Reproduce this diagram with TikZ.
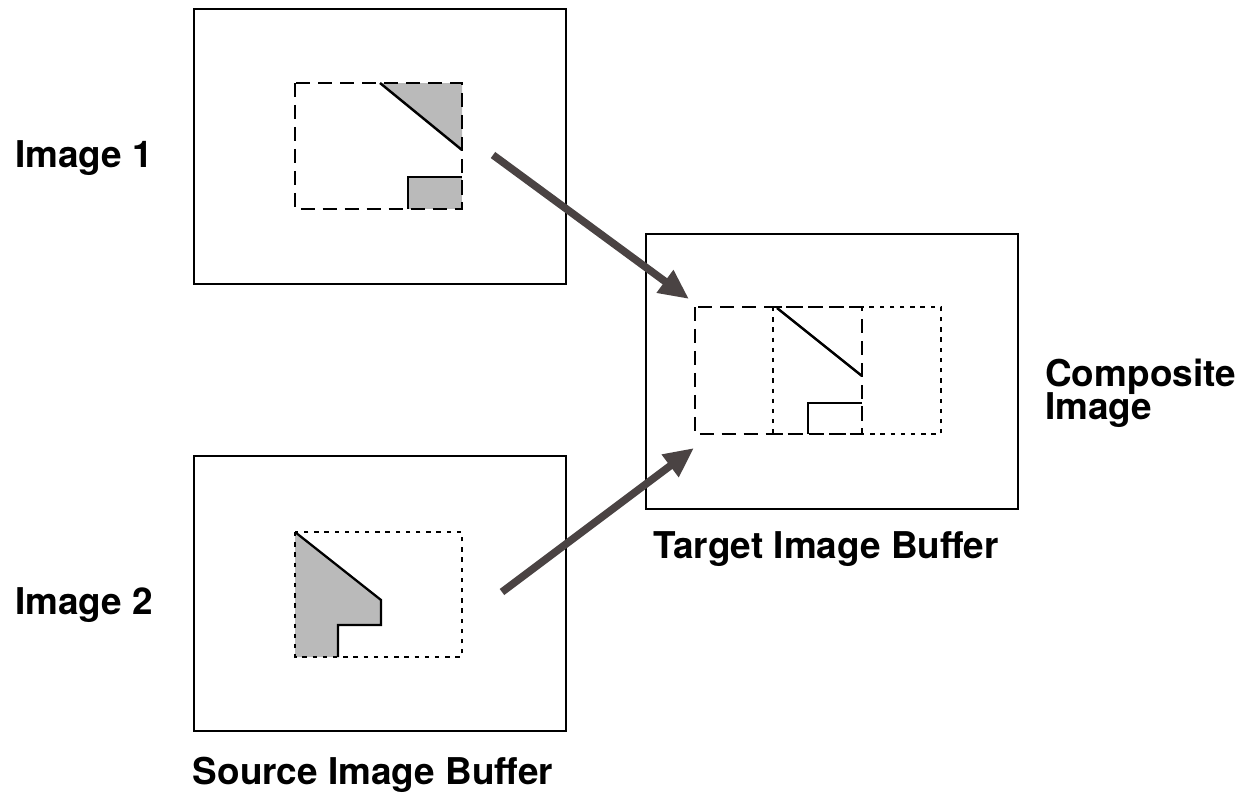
\documentclass[tikz,border=0pt]{standalone}
\usepackage{fontspec}
\setmainfont{TeX Gyre Heros}
\usetikzlibrary{arrows.meta,positioning}

\begin{document}
\begin{tikzpicture}[x=0.02cm, y=-0.02cm, line join=miter,
  buffer/.style={rectangle, draw, line width=1.15pt, anchor=north west, inner sep=0pt, minimum width=7.44cm, minimum height=5.5cm},
  win dashed/.style={line width=1.6pt, dash pattern=on 8pt off 4.5pt},
  win dotted/.style={line width=1.6pt, dash pattern=on 2.5pt off 3.3pt},
  shaded/.style={fill=black!27},
  caption/.style={font=\bfseries\fontsize{21}{24}\selectfont, align=left, inner sep=0pt},
  fat arrow/.style={draw=arrowgray, line width=4.3pt, -{Triangle[length=17pt,width=15pt]}}]
  \definecolor{arrowgray}{HTML}{4A4343}
  \useasboundingbox (0,0) rectangle (1249,795);

  % buffers
  \node[buffer] (img1) at (193,8) {};
  \node[buffer] (img2) at (193,455) {};
  \node[buffer] (target) at (645,233) {};

  % image 1 window
  \fill[shaded] (380,83) -- (462,83) -- (462,150) -- cycle;
  \fill[shaded] (408,177) rectangle (462,209);
  \draw[line width=1.3pt] (408,209) -- (408,177) -- (462,177);
  \draw[win dashed] (295,83) rectangle (462,209);
  \draw[line width=1.4pt] (380,83) -- (462,150);

  % image 2 window
  \fill[shaded] (295,532) -- (381,600) -- (381,625) -- (338,625) -- (338,657) -- (295,657) -- cycle;
  \draw[line width=1.3pt] (295,532) -- (381,600) -- (381,625) -- (338,625) -- (338,657);
  \draw[win dotted] (295,532) rectangle (462,657);

  % composite in target
  \draw[win dotted] (773,307) rectangle (941,434);
  \draw[win dashed] (695,307) rectangle (862,434);
  \draw[line width=1.4pt] (777,308) -- (862,376);
  \draw[line width=1.3pt] (808,434) -- (808,403) -- (862,403);

  % arrows
  \coordinate (from1) at (493,155);
  \coordinate (to1) at (689,299);
  \coordinate (from2) at (502,592);
  \coordinate (to2) at (694,448);
  \draw[fat arrow] (from1) -- (to1);
  \draw[fat arrow] (from2) -- (to2);

  % labels
  \node[caption, anchor=west] (lab1) at (15,158) {Image 1};
  \node[caption, anchor=west] (lab2) at (15,605) {Image 2};
  \node[caption] (labsrc) at (373,775) {Source Image Buffer};
  \node[caption] (labtgt) at (826,549) {Target Image Buffer};
  \node[caption, anchor=west] (labcmp) at (1045,393) {Composite\\[-5pt]Image};
\end{tikzpicture}
\end{document}
